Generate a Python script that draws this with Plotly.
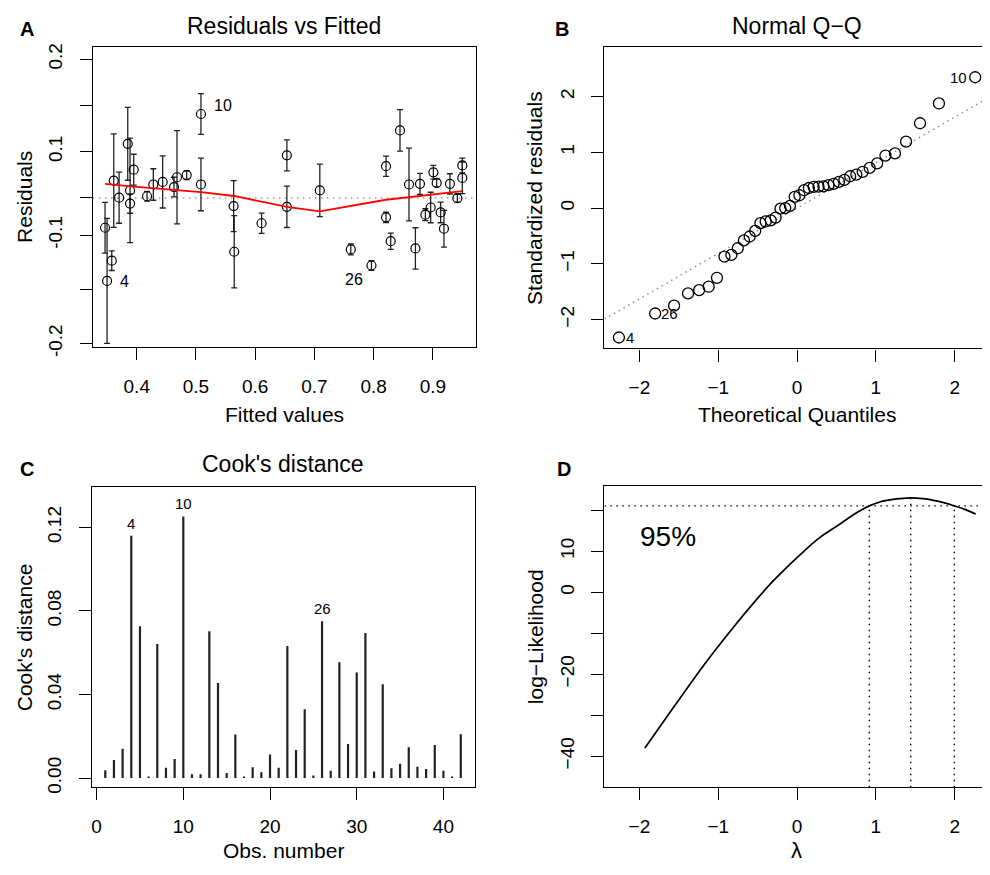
import plotly.graph_objects as go

W, H = 990, 875
OFF = 8  # default page body margin that shifts the plot
FW, FH = W - OFF, H - OFF
FONT = "Liberation Sans, Arial, sans-serif"


def px(x):
    return (x - OFF) / FW


def py(y):
    return 1 - (y - OFF) / FH


# ---------------- Panel A: Residuals vs Fitted ----------------
fitted = [0.3465, 0.3499, 0.3578, 0.3612, 0.3702, 0.3848, 0.3887, 0.3887, 0.3949, 0.4174,
          0.4280, 0.4438, 0.4629, 0.4680, 0.4843, 0.5084, 0.5084, 0.5636, 0.5646, 0.6108,
          0.6535, 0.6535, 0.7091, 0.7614, 0.7963, 0.8209, 0.8209, 0.8288, 0.8445, 0.8597,
          0.8705, 0.8782, 0.8873, 0.8963, 0.9008, 0.9064, 0.9131, 0.9187, 0.9288, 0.9413,
          0.9497, 0.9497]
residuals = [-0.0430, -0.1196, -0.0904, 0.0251, 0.0004, 0.0780, 0.0109, -0.0081, 0.0407, 0.0024,
             0.0194, 0.0231, 0.0156, 0.0298, 0.0330, 0.1210, 0.0194, -0.0118, -0.0776, -0.0365,
             0.0614, -0.0128, 0.0109, -0.0742, -0.0974, 0.0458, -0.0279, -0.0624, 0.0974, 0.0194,
             -0.0728, 0.0203, -0.0241, -0.0138, 0.0369, 0.0217, -0.0209, -0.0444, 0.0203, -0.0004,
             0.0468, 0.0288]
resid_err = [0.0366, 0.0901, 0.0142, 0.0674, 0.0369, 0.0525, 0.0752, 0.0140, 0.0223, 0.0071,
             0.0227, 0.0376, 0.0142, 0.0671, 0.0064, 0.0295, 0.0379, 0.0369, 0.0521, 0.0146,
             0.0224, 0.0298, 0.0379, 0.0078, 0.0071, 0.0146, 0.0075, 0.0118, 0.0298, 0.0525,
             0.0298, 0.0152, 0.0085, 0.0220, 0.0099, 0.0057, 0.0149, 0.0265, 0.0146, 0.0057,
             0.0106, 0.0227]
lowess_x = [0.3465, 0.4, 0.5084, 0.5646, 0.6535, 0.7091, 0.8209, 0.9497]
lowess_y = [0.0203, 0.0160, 0.0085, 0.0028, -0.0128, -0.0194, -0.0026, 0.0099]
a_labels = ["4", "10", "26"]
a_label_x = [0.379, 0.545, 0.766]
a_label_y = [-0.1206, 0.133, -0.1177]
a_yticks = [0.2, 0.1329, 0.0667, 0.0, -0.0539, -0.1319, -0.2099]
a_yticktext = ["0.2", "", "0.1", "", "-0.1", "", "-0.2"]
a_xticks = [0.4, 0.5, 0.6, 0.7, 0.8, 0.9]

# ---------------- Panel B: Normal Q-Q ----------------
theo_q = [-2.26, -1.80, -1.56, -1.383, -1.242, -1.121, -1.016, -0.921, -0.833, -0.752,
          -0.674, -0.601, -0.531, -0.464, -0.398, -0.334, -0.272, -0.210, -0.150, -0.090,
          -0.030, 0.030, 0.090, 0.150, 0.210, 0.272, 0.334, 0.398, 0.464, 0.531,
          0.601, 0.674, 0.752, 0.833, 0.921, 1.016, 1.121, 1.242, 1.383, 1.56,
          1.80, 2.26]
std_resid = [-2.32, -1.89, -1.75, -1.53, -1.47, -1.41, -1.25, -0.87, -0.84, -0.72,
             -0.58, -0.51, -0.41, -0.27, -0.24, -0.22, -0.17, -0.01, 0.0, 0.04,
             0.20, 0.23, 0.32, 0.36, 0.38, 0.385, 0.39, 0.41, 0.435, 0.47,
             0.505, 0.57, 0.60, 0.65, 0.72, 0.80, 0.94, 0.98, 1.19, 1.52,
             1.875, 2.345]
qq_intercept = 0.0
qq_slope = 0.815
b_ticks = [-2, -1, 0, 1, 2]
b_ticktext = ["\u22122", "\u22121", "0", "1", "2"]

# ---------------- Panel C: Cook's distance ----------------
obs = list(range(1, 43))
cooks = [0.0038, 0.0087, 0.0141, 0.1160, 0.0727, 0.0008, 0.0642, 0.0050, 0.0091, 0.1252,
         0.0019, 0.0019, 0.0703, 0.0455, 0.0024, 0.0209, 0.0008, 0.0052, 0.0028, 0.0113,
         0.0050, 0.0632, 0.0134, 0.0330, 0.0013, 0.0750, 0.0035, 0.0555, 0.0163, 0.0505,
         0.0694, 0.0032, 0.0449, 0.0047, 0.0069, 0.0148, 0.0054, 0.0044, 0.0159, 0.0035,
         0.0008, 0.0210]
c_labels = ["4", "10", "26"]
c_label_obs = [4, 10, 26]
c_xticks = [0, 10, 20, 30, 40]
c_yticks = [0.0, 0.04, 0.08, 0.12]
c_yticktext = ["0.00", "0.04", "0.08", "0.12"]

# ---------------- Panel D: Box-Cox profile likelihood ----------------
lam = [-1.93, -1.6, -1.167, -0.807, -0.55, -0.30, 0.123, 0.30, 0.545, 0.75,
       0.917, 1.05, 1.18, 1.30, 1.442, 1.60, 1.73, 1.85, 1.995, 2.13, 2.266]
loglik = [-38.0, -29.0, -17.4, -8.55, -2.6, 2.8, 10.65, 13.5, 16.65, 19.3,
          21.05, 22.0, 22.5, 22.8, 23.0, 22.8, 22.4, 21.9, 21.05, 20.2, 19.05]
ci_cut = 21.05
ci_lambda = [0.917, 1.442, 1.995]
ci_loglik = [21.05, 23.0, 21.05]
d_yticks = [-40, -30, -20, -10, 0, 10, 20]
d_yticktext = ["\u221240", "", "\u221220", "", "0", "10", ""]

# ---------------- axis ranges (from panel boxes) ----------------
A_XR = [0.326, 0.972]
A_YR = [-0.2142, 0.2170]
B_XR = [-2.444, 2.435]
B_YR = [-2.517, 2.892]
C_XR = [-0.54, 43.62]
C_YR = [-0.00438, 0.1392]
D_XR = [-2.444, 2.435]
D_YR = [-47.59, 25.85]

DOT = "1.5px,4.5px"

fig = go.Figure()

# Panel A
fig.add_trace(go.Scatter(x=A_XR, y=[0, 0], mode="lines", xaxis="x", yaxis="y",
                         line=dict(color="#999999", width=1.4, dash=DOT), hoverinfo="skip"))
fig.add_trace(go.Scatter(x=fitted, y=residuals, mode="markers", xaxis="x", yaxis="y",
                         marker=dict(symbol="circle-open", size=9, color="black",
                                     line=dict(width=1.2, color="black")),
                         error_y=dict(type="data", array=resid_err, visible=True,
                                      color="#222222", thickness=1.3, width=3)))
fig.add_trace(go.Scatter(x=lowess_x, y=lowess_y, mode="lines", xaxis="x", yaxis="y",
                         line=dict(color="red", width=1.8)))

# Panel B
fig.add_trace(go.Scatter(x=B_XR, y=[qq_intercept + qq_slope * v for v in B_XR], mode="lines",
                         xaxis="x2", yaxis="y2",
                         line=dict(color="#888888", width=1.4, dash="1.5px,4px"), hoverinfo="skip"))
fig.add_trace(go.Scatter(x=theo_q, y=std_resid, mode="markers", xaxis="x2", yaxis="y2",
                         marker=dict(symbol="circle-open", size=11, color="black",
                                     line=dict(width=1.3, color="black"))))

# Panel C
cx, cy = [], []
for i, c in zip(obs, cooks):
    cx += [i, i, None]
    cy += [0, c, None]
fig.add_trace(go.Scatter(x=cx, y=cy, mode="lines", xaxis="x3", yaxis="y3",
                         line=dict(color="#222222", width=2.2)))

# Panel D
fig.add_trace(go.Scatter(x=lam, y=loglik, mode="lines", xaxis="x4", yaxis="y4",
                         line=dict(color="black", width=1.7, shape="spline", smoothing=0.8)))
fig.add_trace(go.Scatter(x=D_XR, y=[ci_cut, ci_cut], mode="lines", xaxis="x4", yaxis="y4",
                         line=dict(color="black", width=1.4, dash=DOT)))
for lx, ly in zip(ci_lambda, ci_loglik):
    fig.add_trace(go.Scatter(x=[lx, lx], y=[D_YR[0], ly], mode="lines", xaxis="x4", yaxis="y4",
                             line=dict(color="black", width=1.4, dash=DOT)))

tickfont = dict(family=FONT, size=19, color="black")
common = dict(showline=True, linecolor="black", linewidth=1.4, mirror=True,
              ticks="outside", ticklen=12, tickwidth=1.4, tickcolor="black",
              showgrid=False, zeroline=False, tickfont=tickfont, ticklabelstandoff=10)

fig.update_layout(
    width=FW, height=FH, margin=dict(l=0, r=0, t=0, b=0),
    paper_bgcolor="white", plot_bgcolor="white", showlegend=False,
    font=dict(family=FONT, color="black"),
    xaxis=dict(domain=[px(92), px(475)], range=A_XR, anchor="y",
               tickvals=a_xticks, ticktext=[str(v) for v in a_xticks], **common),
    yaxis=dict(domain=[py(348), py(44)], range=A_YR, anchor="x",
               tickvals=a_yticks, ticktext=a_yticktext, tickangle=-90, **common),
    xaxis2=dict(domain=[px(604), px(989)], range=B_XR, anchor="y2",
                tickvals=b_ticks, ticktext=b_ticktext, **common),
    yaxis2=dict(domain=[py(350), py(43.3)], range=B_YR, anchor="x2",
                tickvals=b_ticks, ticktext=b_ticktext, tickangle=-90, **common),
    xaxis3=dict(domain=[px(91), px(474.3)], range=C_XR, anchor="y3",
                tickvals=c_xticks, ticktext=[str(v) for v in c_xticks], **common),
    yaxis3=dict(domain=[py(796), py(491)], range=C_YR, anchor="x3",
                tickvals=c_yticks, ticktext=c_yticktext, tickangle=-90, **common),
    xaxis4=dict(domain=[px(604), px(989)], range=D_XR, anchor="y4",
                tickvals=b_ticks, ticktext=b_ticktext, **common),
    yaxis4=dict(domain=[py(796), py(490)], range=D_YR, anchor="x4",
                tickvals=d_yticks, ticktext=d_yticktext, tickangle=-90, **common),
)

ann = []


def paper_text(text, x, y, size, bold=False, angle=0):
    ann.append(dict(text=f"<b>{text}</b>" if bold else text, x=px(x), y=py(y),
                    xref="paper", yref="paper", showarrow=False, textangle=angle,
                    xanchor="center", yanchor="middle",
                    font=dict(family=FONT, size=size, color="black")))


# panel letters
paper_text("A", 26, 25, 20, bold=True)
paper_text("B", 562, 25, 20, bold=True)
paper_text("C", 26, 472, 20, bold=True)
paper_text("D", 564, 472, 20, bold=True)
# titles
paper_text("Residuals vs Fitted", 283.5, 22, 23)
paper_text("Normal Q\u2212Q", 796.5, 22, 23)
paper_text("Cook's distance", 282.5, 467, 23)
# axis titles
paper_text("Fitted values", 283.5, 417, 21)
paper_text("Theoretical Quantiles", 796.5, 417, 21)
paper_text("Obs. number", 282.5, 860, 21)
paper_text("\u03bb", 796.5, 860, 22)
paper_text("Residuals", 24, 196, 21, angle=-90)
paper_text("Standardized residuals", 534, 196.5, 21, angle=-90)
paper_text("Cook's distance", 23, 643.5, 21, angle=-90)
paper_text("log\u2212Likelihood", 535, 643, 21, angle=-90)

# panel A point labels
for t, lx, ly in zip(a_labels, a_label_x, a_label_y):
    ann.append(dict(text=t, x=lx, y=ly, xref="x", yref="y", showarrow=False,
                    font=dict(family=FONT, size=16, color="black")))

# panel B point labels
ann.append(dict(text="4", x=theo_q[0], y=std_resid[0], xref="x2", yref="y2", showarrow=False,
                xanchor="left", xshift=5, font=dict(family=FONT, size=15, color="black")))
ann.append(dict(text="26", x=theo_q[1], y=std_resid[1], xref="x2", yref="y2", showarrow=False,
                xanchor="left", xshift=4, font=dict(family=FONT, size=15, color="black")))
ann.append(dict(text="10", x=theo_q[-1], y=std_resid[-1], xref="x2", yref="y2", showarrow=False,
                xanchor="right", xshift=-6, font=dict(family=FONT, size=15, color="black")))

# panel C labels
for t, o in zip(c_labels, c_label_obs):
    ann.append(dict(text=t, x=o, y=cooks[o - 1], xref="x3", yref="y3", showarrow=False,
                    yanchor="bottom", yshift=2, font=dict(family=FONT, size=15, color="black")))

# panel D label
ann.append(dict(text="95%", x=-1.64, y=13.6, xref="x4", yref="y4", showarrow=False,
                font=dict(family=FONT, size=28, color="black")))

fig.update_layout(annotations=ann)
fig.write_html("out.html")
